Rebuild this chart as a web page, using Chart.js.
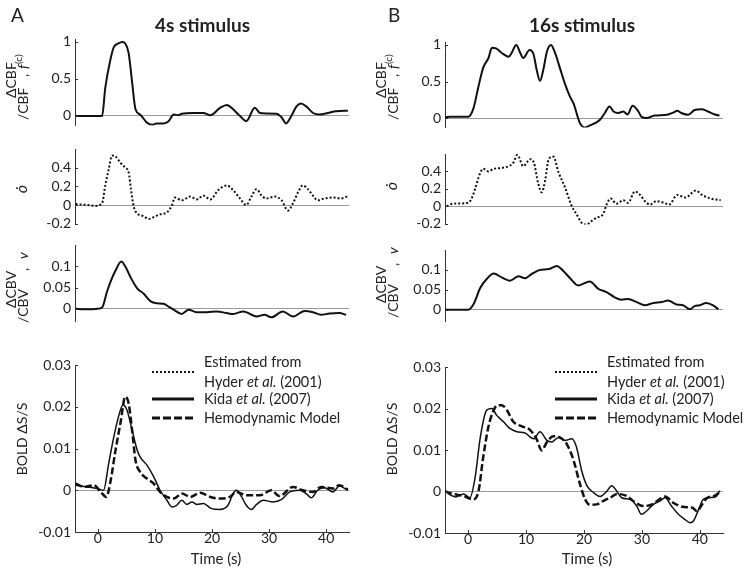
<!DOCTYPE html>
<html>
<head>
<meta charset="utf-8">
<script src="https://cdn.jsdelivr.net/npm/chart.js@4.4.1/dist/chart.umd.min.js"></script>
<style>
body{margin:0;background:#fff;}
#page{position:relative;width:750px;height:570px;overflow:hidden;background:#fff;}
#page canvas{position:absolute;}
</style>
</head>
<body>
<div id="page"></div>
<script>
// tick values
const timeTicks = [0, 10, 20, 30, 40];
const cbfTicks = [0, 0.5, 1];
const odotTicks = [-0.2, 0, 0.2, 0.4];
const cbvTicks = [0, 0.05, 0.1];
const boldTicks = [-0.01, 0, 0.01, 0.02, 0.03];

const titles = ["4s stimulus", "16s stimulus"];

// [time (s), value]
const cbfA = [[-4,0],[0.75,0],[1.3,0.38],[2.2,0.76],[2.8,0.93],[3.6,0.98],[4.3,1.0],[4.8,0.98],[5.4,0.85],[6.0,0.46],[6.6,0.09],[7.4,0.02],[8.6,-0.09],[9.5,-0.12],[10.3,-0.1],[11.5,-0.1],[12.4,-0.07],[13.3,0.02],[14.1,0.01],[14.7,0.03],[16.7,0.04],[18.5,0.04],[19.7,0.01],[21.4,0.11],[22.6,0.15],[23.7,0.09],[24.9,0],[26.0,-0.07],[27.5,0.11],[28.4,0.04],[29.5,0.035],[31.3,0.03],[32.2,-0.02],[33.0,-0.1],[33.9,0],[34.8,0.13],[35.6,0.17],[36.5,0.13],[37.7,0.04],[38.8,0.02],[40.3,0.04],[41.7,0.065],[43.8,0.07]];
const cbfB = [[-4,0.01],[-3,0.02],[0,0.02],[0.9,0.13],[1.8,0.44],[2.6,0.69],[3.5,0.82],[4.1,0.96],[4.9,0.95],[5.8,0.89],[7.0,0.84],[7.5,0.89],[8.3,1.0],[9.0,0.89],[9.5,0.82],[10.6,0.93],[11.3,0.87],[11.8,0.67],[12.4,0.51],[13.0,0.67],[13.6,0.91],[14.3,1.0],[15.0,0.89],[15.9,0.67],[16.7,0.47],[17.6,0.29],[18.2,0.2],[18.9,0.02],[19.3,-0.07],[20.2,-0.13],[21.0,-0.1],[21.9,-0.07],[22.8,-0.02],[23.6,0.07],[24.4,0.16],[25.1,0.09],[25.9,0.07],[26.8,0.09],[27.5,0.05],[28.4,0.17],[29.4,0.09],[29.9,0.02],[30.8,0],[32.2,0.035],[34.3,0.045],[35.4,0.075],[36.1,0.1],[36.8,0.07],[38.0,0.045],[39.1,0.11],[40.3,0.12],[41.4,0.09],[42.6,0.05],[43.4,0.035]];

const odotA = [[-3.9,0.01],[-1.9,0],[-0.4,-0.01],[0.75,0.02],[1.3,0.21],[1.9,0.38],[2.5,0.53],[3.1,0.52],[4.0,0.45],[4.8,0.4],[5.4,0.35],[5.8,0.17],[6.3,-0.02],[6.9,-0.09],[8.0,-0.12],[8.9,-0.15],[9.8,-0.13],[10.9,-0.1],[12.1,-0.08],[13.0,0],[13.5,0.08],[14.7,0.05],[16.2,0.09],[17.3,0.06],[18.5,0.1],[19.7,0.06],[21.1,0.16],[22.6,0.21],[23.7,0.16],[24.9,0.07],[26.0,0],[26.9,0.09],[27.8,0.17],[28.7,0.1],[29.5,0.07],[31.0,0.09],[32.2,0.05],[33.3,-0.06],[34.2,0.02],[35.1,0.14],[35.9,0.21],[36.8,0.17],[37.7,0.1],[38.5,0.05],[39.7,0.07],[41.2,0.08],[42.6,0.07],[44,0.1]];
const odotB = [[-3.7,0],[-2.6,0.03],[0,0.04],[0.6,0.09],[1.2,0.2],[2.0,0.37],[2.6,0.43],[3.5,0.4],[4.4,0.43],[5.8,0.44],[7.0,0.46],[7.8,0.5],[8.5,0.59],[9.5,0.46],[10.7,0.54],[11.3,0.51],[12.1,0.26],[12.7,0.16],[13.3,0.3],[13.9,0.54],[14.7,0.57],[15.6,0.39],[16.7,0.22],[17.9,0],[18.7,-0.09],[19.6,-0.19],[20.5,-0.21],[21.3,-0.17],[22.2,-0.13],[23.3,-0.09],[23.9,0.02],[24.6,0.09],[25.6,0.03],[26.8,0.07],[27.6,0.04],[28.8,0.17],[29.7,0.13],[30.5,0.06],[31.4,0.02],[32.5,0.06],[33.8,0.04],[34.7,0.02],[36.1,0.13],[37.5,0.1],[39.3,0.18],[40.4,0.13],[41.8,0.09],[43.6,0.07]];

const cbvA = [[-3.9,0],[-2.5,-0.001],[-0.1,0],[0.75,0.003],[1.6,0.04],[2.2,0.063],[3.1,0.09],[4.1,0.111],[4.8,0.1],[5.7,0.075],[6.9,0.048],[8.0,0.036],[9.2,0.018],[10.3,0.013],[11.5,0.012],[12.4,0.005],[13.3,-0.002],[14.7,-0.012],[15.9,-0.002],[17.3,-0.008],[19.1,-0.008],[20.8,-0.006],[22.6,-0.01],[23.7,-0.012],[25.5,-0.006],[27.8,-0.018],[29.2,-0.014],[30.4,-0.02],[32.4,-0.006],[34.2,-0.018],[36.2,-0.005],[37.7,-0.008],[39.1,-0.014],[40.6,-0.011],[42.3,-0.01],[43.5,-0.014]];
const cbvB = [[-4,0],[0,0],[0.9,0.013],[2.1,0.055],[3.2,0.077],[4.4,0.091],[5.8,0.081],[7.2,0.073],[8.7,0.084],[9.8,0.079],[11.0,0.09],[12.4,0.1],[13.9,0.102],[15.3,0.11],[16.4,0.098],[17.6,0.079],[19.0,0.061],[21.0,0.071],[22.5,0.052],[23.9,0.044],[25.3,0.031],[26.5,0.025],[27.6,0.027],[29.1,0.019],[30.5,0.011],[32.0,0.017],[33.4,0.019],[34.5,0.023],[36.0,0.013],[37.1,0.011],[38.3,0.001],[39.1,0.009],[40.0,0.011],[41.1,0.017],[42.3,0.011],[43.2,0.001]];

const kidaA = [[-3.9,0.0012],[-1.9,0.0008],[-0.1,0.0004],[1.0,0],[1.9,0.0064],[2.8,0.0128],[3.7,0.018],[4.4,0.0204],[5.1,0.0192],[6.0,0.0144],[6.9,0.0096],[7.4,0.008],[8.6,0.006],[9.8,0.0032],[10.9,0],[12.1,-0.0024],[13.0,-0.004],[13.8,-0.0036],[14.7,-0.0024],[15.6,-0.0034],[16.5,-0.0028],[17.3,-0.0034],[18.5,-0.0032],[19.9,-0.0044],[21.4,-0.0046],[22.8,-0.0036],[23.7,-0.0008],[24.3,0],[25.2,-0.0016],[26.0,-0.0036],[26.9,-0.0046],[27.8,-0.0034],[29.0,-0.0024],[30.7,-0.0028],[32.2,-0.0022],[33.6,-0.0004],[35.3,0],[36.5,-0.0008],[37.4,-0.0018],[38.5,0],[39.7,0.0006],[41.2,-0.0004],[42.3,0.001],[43.8,0]];
const modelA = [[-3.9,0.0016],[-2.4,0.0008],[-0.7,0.0012],[0.5,-0.0004],[1.5,-0.0016],[2.2,0.002],[3.1,0.0096],[4.0,0.0164],[4.8,0.0224],[5.4,0.0208],[6.0,0.0144],[6.6,0.0072],[7.4,0.0044],[8.6,0.0028],[9.8,0.0016],[10.9,-0.0004],[12.1,-0.0016],[13.3,-0.002],[14.7,-0.0008],[16.2,-0.0016],[17.9,-0.0006],[19.7,-0.0016],[21.4,-0.002],[23.1,-0.0016],[24.3,-0.0004],[26.0,-0.0012],[28.4,-0.0012],[30.4,0],[31.8,-0.0014],[34.2,0.0008],[35.9,0],[37.7,-0.0004],[39.1,0.0008],[41.2,0.0004],[42.3,0.0012],[43.8,0.0002]];
const kidaB = [[-4,0],[-2.2,-0.0013],[-0.8,-0.0006],[0.3,-0.0015],[1.2,0.0034],[2.1,0.0131],[3.2,0.0196],[4.1,0.02],[4.9,0.0184],[6.1,0.0168],[7.2,0.0152],[8.4,0.0144],[9.8,0.0141],[11.3,0.0127],[12.4,0.0144],[13.6,0.0123],[14.4,0.0119],[15.6,0.013],[16.7,0.0123],[17.9,0.0127],[18.7,0.0107],[19.6,0.005],[20.5,0.0014],[21.6,-0.0002],[22.8,-0.0012],[23.9,0],[24.8,0.0014],[25.6,0.0002],[26.5,-0.0015],[27.9,-0.0019],[29.1,-0.0035],[29.9,-0.0055],[30.8,-0.0047],[32.0,-0.0031],[33.1,-0.0023],[34.0,-0.0015],[35.1,-0.0035],[36.3,-0.0055],[37.4,-0.0067],[38.3,-0.0075],[38.9,-0.0071],[39.8,-0.0043],[40.6,-0.0019],[41.7,-0.0015],[42.9,-0.0011],[43.4,0.0002]];
const modelB = [[-4,0],[-2.5,-0.0006],[-0.8,-0.0011],[0.9,-0.0019],[1.8,0.0002],[2.6,0.0083],[3.5,0.0156],[4.4,0.0196],[5.1,0.0208],[5.8,0.0208],[6.7,0.0196],[7.8,0.0168],[9.3,0.0157],[10.7,0.0148],[11.8,0.0127],[12.7,0.0099],[13.6,0.0119],[14.7,0.0133],[15.9,0.013],[17.0,0.0115],[18.2,0.0075],[19.3,0.0018],[20.2,-0.0019],[21.0,-0.0032],[22.2,-0.0031],[23.3,-0.0023],[24.5,-0.0015],[25.7,-0.0006],[27.4,-0.0011],[28.9,-0.0027],[30.2,-0.0035],[31.6,-0.0032],[32.8,-0.0021],[34.0,-0.0012],[35.4,-0.0027],[37.1,-0.0037],[38.7,-0.0039],[39.5,-0.0047],[40.4,-0.0031],[41.3,-0.0015],[42.4,-0.0011],[43.4,-0.0002]];

const FONT = 'Lato, "DejaVu Sans", sans-serif';
Chart.defaults.font.family = FONT;
Chart.defaults.font.size = 14;
Chart.defaults.color = '#222';

const page = document.getElementById('page');

// layout of the two columns and four rows (page pixels)
const cols = [
  {x0: 0, axisX: 75, rightX: 349, dx: 0},
  {x0: 375, axisX: 445, rightX: 723, dx: 370}
];
const rowBox = [
  [[39, 128], [42, 130]],
  [[149, 227], [154, 227]],
  [[245, 324], [250, 324]],
  [[365, 532], [367, 533]]
];
const yRange = [[-0.13, 1.04], [-0.21, 0.6], [-0.03, 0.15], [-0.01, 0.03]];
const yTicks = [cbfTicks, odotTicks, cbvTicks, boldTicks];

function line(pts, width, dash){
  return {
    data: pts.map(p => ({x: p[0], y: p[1]})),
    borderColor: '#111',
    borderWidth: width,
    borderDash: dash || [],
    pointRadius: 0,
    fill: false,
    cubicInterpolationMode: 'monotone'
  };
}

function txt(ctx, s, x, y, font, align, base){
  ctx.font = font;
  ctx.textAlign = align || 'left';
  ctx.textBaseline = base || 'alphabetic';
  ctx.fillText(s, x, y);
}
function rotTxt(ctx, s, x, y, font, align, base){
  ctx.save();
  ctx.translate(x, y);
  ctx.rotate(-Math.PI / 2);
  txt(ctx, s, 0, 0, font, align, base);
  ctx.restore();
}
function runs(ctx, parts, x, y){
  ctx.textAlign = 'left';
  ctx.textBaseline = 'middle';
  parts.forEach(p => {
    ctx.font = (p[1] ? 'italic ' : '') + '14.5px ' + FONT;
    ctx.fillText(p[0], x, y);
    x += ctx.measureText(p[0]).width;
  });
}
function seg(ctx, x1, x2, y, w, dash){
  ctx.save();
  ctx.strokeStyle = '#111';
  ctx.lineWidth = w;
  ctx.setLineDash(dash);
  ctx.beginPath();
  ctx.moveTo(x1, y);
  ctx.lineTo(x2, y);
  ctx.stroke();
  ctx.restore();
}

const F14 = '14px ' + FONT;

function extrasFor(row, c){
  const dx = cols[c].dx;
  return function(ctx){
    ctx.fillStyle = '#222';
    if (row === 0) {
      txt(ctx, c === 0 ? 'A' : 'B', c === 0 ? 11 : 388, 22, '19px ' + FONT);
      txt(ctx, titles[c], c === 0 ? 202.5 : 582, 32, 'bold 19px ' + FONT, 'center');
      rotTxt(ctx, 'ΔCBF', 16 + dx, 98, F14);
      rotTxt(ctx, '/CBF', 27.5 + dx, 120, F14);
      rotTxt(ctx, ',', 27.5 + dx, 77, F14);
      rotTxt(ctx, 'f', 27.5 + dx, 69, 'italic 14px ' + FONT);
      rotTxt(ctx, '(c)', 22 + dx, 64, '10px ' + FONT);
    } else if (row === 1) {
      rotTxt(ctx, 'ȯ', 21.5 + dx, c === 0 ? 189 : 186, 'italic 16px ' + FONT, 'center', 'middle');
    } else if (row === 2) {
      const dy = c === 0 ? 0 : -5;
      rotTxt(ctx, 'ΔCBV', 16 + dx, 308 + dy, F14);
      rotTxt(ctx, '/CBV', 27.5 + dx, 323 + dy, F14);
      rotTxt(ctx, ',', 27.5 + dx, 271 + dy, F14);
      rotTxt(ctx, 'v', 27.5 + dx, 259 + dy, 'italic 14px ' + FONT);
    } else {
      rotTxt(ctx, 'BOLD ΔS/S', 27 + dx, 439, F14, 'center');
      const lx = c === 0 ? 152 : 555;
      const tx = c === 0 ? 204 : 607;
      seg(ctx, lx, lx + 42, 372, 2, [2, 2]);
      seg(ctx, lx, lx + 42, 399, 3, []);
      seg(ctx, lx, lx + 42, 418, 3, [8, 3]);
      runs(ctx, [['Estimated from', false]], tx, 362);
      runs(ctx, [['Hyder ', false], ['et al.', true], [' (2001)', false]], tx, 382);
      runs(ctx, [['Kida ', false], ['et al.', true], [' (2007)', false]], tx, 399);
      runs(ctx, [['Hemodynamic Model', false]], tx, 418);
      txt(ctx, 'Time (s)', c === 0 ? 216 : 587, 559, '15px ' + FONT, 'center', 'middle');
    }
  };
}

// inward tick marks, MATLAB style
const inward = {
  id: 'inward',
  afterDraw(chart){
    const {ctx, chartArea: a, scales} = chart;
    ctx.save();
    ctx.strokeStyle = '#333';
    ctx.lineWidth = 1;
    scales.y.ticks.forEach(t => {
      const y = Math.round(scales.y.getPixelForValue(t.value)) + 0.5;
      ctx.beginPath(); ctx.moveTo(a.left, y); ctx.lineTo(a.left + 3, y); ctx.stroke();
    });
    if (scales.x.options.display) {
      scales.x.ticks.forEach(t => {
        const x = Math.round(scales.x.getPixelForValue(t.value)) + 0.5;
        ctx.beginPath(); ctx.moveTo(x, a.bottom); ctx.lineTo(x, a.bottom - 3); ctx.stroke();
      });
    }
    ctx.restore();
  }
};

const panelData = [
  [[line(cbfA, 2)], [line(cbfB, 2)]],
  [[line(odotA, 2, [2, 2])], [line(odotB, 2, [2, 2])]],
  [[line(cbvA, 2)], [line(cbvB, 2)]],
  [[line(kidaA, 1.5), line(modelA, 2.5, [7, 3])], [line(kidaB, 1.5), line(modelB, 2.5, [7, 3])]]
];

for (let r = 0; r < 4; r++) {
  for (let c = 0; c < 2; c++) {
    const col = cols[c];
    const [T, B] = rowBox[r][c];
    const bottomRow = r === 3;
    const top = r === 0 ? 0 : T - 20;
    const w = 375;
    const h = B - top + (bottomRow ? 40 : 10);
    const cv = document.createElement('canvas');
    cv.width = w; cv.height = h;
    cv.style.left = col.x0 + 'px';
    cv.style.top = top + 'px';
    page.appendChild(cv);
    const draw = extrasFor(r, c);
    const ticks = yTicks[r];

    new Chart(cv.getContext('2d'), {
      type: 'line',
      data: {datasets: panelData[r][c]},
      options: {
        responsive: false,
        animation: false,
        layout: {padding: {left: 0, right: w - (col.rightX - col.x0), top: T - top, bottom: bottomRow ? 0 : 10}},
        plugins: {legend: {display: false}, tooltip: {enabled: false}},
        scales: {
          x: {
            type: 'linear', min: -4, max: 44,
            display: bottomRow,
            afterBuildTicks: s => { s.ticks = timeTicks.map(v => ({value: v})); },
            afterFit: s => { if (bottomRow) s.height = 40; },
            ticks: {padding: -2, maxRotation: 0, autoSkip: false, callback: v => String(v)},
            grid: {display: false, drawTicks: false},
            border: {display: true, color: '#333', width: 1}
          },
          y: {
            type: 'linear', min: yRange[r][0], max: yRange[r][1],
            afterBuildTicks: s => { s.ticks = ticks.map(v => ({value: v})); },
            afterFit: s => { s.width = col.axisX - col.x0; },
            ticks: {padding: 4, callback: v => String(v)},
            grid: {drawTicks: false, color: g => (g.tick && g.tick.value === 0) ? '#999' : 'rgba(0,0,0,0)'},
            border: {display: true, color: '#333', width: 1}
          }
        }
      },
      plugins: [inward, {
        id: 'extras',
        afterDraw(chart){
          const ctx = chart.ctx;
          ctx.save();
          ctx.translate(-col.x0, -top);
          draw(ctx);
          ctx.restore();
        }
      }]
    });
  }
}
</script>
</body>
</html>
